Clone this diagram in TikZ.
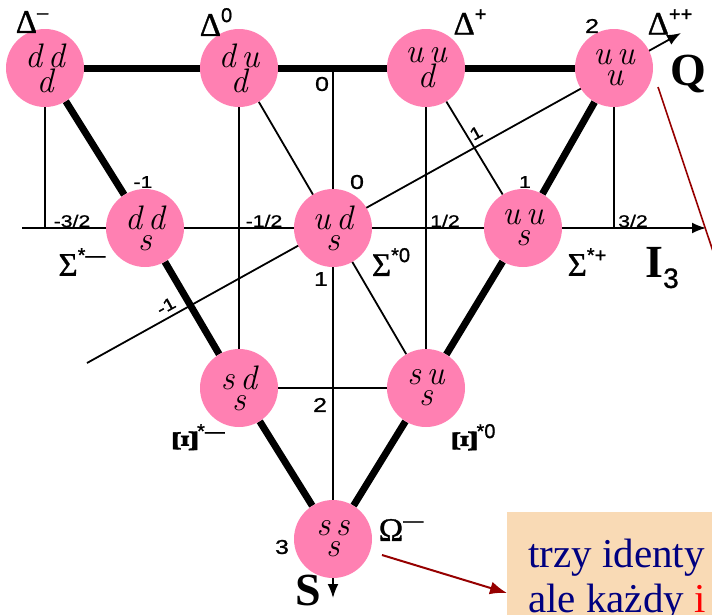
\documentclass[tikz,border=0pt]{standalone}
\usepackage{fontspec}
\usepackage{graphicx}
\usepackage{xcolor}
\usepackage{tikz}
\usetikzlibrary{arrows.meta,backgrounds}
\newfontfamily\ticksans{Liberation Sans}[FakeStretch=1.25,FakeBold=1]
\newfontfamily\plainsans{Liberation Sans}[FakeBold=1]
\newfontfamily\greekserif{Liberation Serif}[FakeBold=1]
\newfontfamily\notefont{Liberation Serif}
\definecolor{quarkpink}{RGB}{255,128,178}
\definecolor{notefill}{RGB}{249,218,181}
\definecolor{notenavy}{RGB}{0,0,128}
\definecolor{arrowred}{RGB}{150,0,0}
\newcommand{\hadron}[2]{{\greekserif #1}\raisebox{0.42em}{\plainsans\fontsize{20}{20}\selectfont #2}}
\newcommand{\xiturned}{\resizebox{24pt}{22pt}{\bfseries\rotatebox{90}{Ξ}}}

\begin{document}
\begin{tikzpicture}[
  x=1pt,y=-1pt,
  quark/.style={circle,fill=quarkpink,minimum size=78pt,inner sep=0pt,align=center,
                font=\fontsize{34}{21}\selectfont\itshape\addfontfeature{FakeStretch=1.2,FakeBold=0.6}},
  heavy/.style={line width=7pt},
  thinline/.style={line width=1.8pt},
  axis/.style={thinline,-{Latex[length=14pt,width=11pt]}},
  tick/.style={font=\ticksans\fontsize{17}{17}\selectfont,inner sep=0pt},
  bigtick/.style={tick,font=\ticksans\fontsize{20}{20}\selectfont},
  hname/.style={font=\greekserif\fontsize{33}{33}\selectfont,inner sep=0pt},
  axisname/.style={font=\notefont\bfseries\fontsize{46}{46}\selectfont,inner sep=0pt},
  notebox/.style={fill=notefill,inner sep=0pt,minimum width=260pt,minimum height=150pt},
  notetext/.style={font=\notefont\fontsize{41}{45}\selectfont,text=notenavy,inner sep=0pt},
  redarrow/.style={draw=arrowred,line width=2pt,-{Latex[length=17pt,width=13pt]}}
]
\useasboundingbox (0,0) rectangle (712,614);
\clip (0,0) rectangle (712,614);

% decuplet
\node[quark] (ddd) at (45,68)   {d\,d\\d};
\node[quark] (dud) at (239,68)  {d\,u\\d};
\node[quark] (uud) at (426,68)  {u\,u\\d};
\node[quark] (uuu) at (614,68)  {u\,u\\u};
\node[quark] (dds) at (145,228) {d\,d\\s};
\node[quark] (uds) at (333,228) {u\,d\\s};
\node[quark] (uus) at (523,228) {u\,u\\s};
\node[quark] (sds) at (239,388) {s\,d\\s};
\node[quark] (sus) at (426,388) {s\,u\\s};
\node[quark] (sss) at (333,539) {s\,s\\s};

\coordinate (i3from) at (22,228);
\coordinate (i3to)   at (706,228);
\coordinate (sfrom)  at (333,68);
\coordinate (sto)    at (333,598);
\coordinate (qfrom)  at (87,363);
\coordinate (qto)    at (681,33);

\begin{scope}[on background layer]
\draw[heavy] (ddd) -- (uuu);
\draw[heavy,line join=round] (ddd) -- (dds) -- (sds) -- (sss);
\draw[heavy,line join=round] (uuu) -- (uus) -- (sus) -- (sss);
\draw[thinline] (ddd) -- (ddd |- i3from);
\draw[thinline] (uuu) -- (uuu |- i3from);
\draw[thinline] (dud) -- (sds);
\draw[thinline] (uud) -- (sus);
\draw[thinline] (sds) -- (sus);
\draw[thinline] (dud) -- (sus);
\draw[thinline] (uud) -- (uus);
\draw[axis] (i3from) -- (i3to);
\draw[axis] (sfrom) -- (sto);
\draw[axis] (qfrom) -- (qto);
\end{scope}

% particle names
\node[hname] (dmm) at (32,22)   {\hadron{Δ}{–}};
\node[hname] (dz)  at (216,22)  {\hadron{Δ}{0}};
\node[hname] (dp)  at (470,22)  {\hadron{Δ}{+}};
\node[hname] (dpp) at (670,22)  {\hadron{Δ}{++}};
\node[hname] (sgm) at (82,262)  {\hadron{Σ}{*—}};
\node[hname] (sgz) at (391,262) {\hadron{Σ}{*0}};
\node[hname] (sgp) at (587,262) {\hadron{Σ}{*+}};
\node[hname] (xim) at (199,438) {\hadron{\xiturned}{*—}};
\node[hname] (xiz) at (474,438) {\hadron{\xiturned}{*0}};
\node[hname] (omm) at (401,530) {\hadron{Ω}{—}};

% axis names
\node[axisname] (qlbl)  at (688,74)  {Q};
\node[axisname] (i3lbl) at (662,268) {I\raisebox{-10pt}{\plainsans\mdseries\fontsize{28}{28}\selectfont 3}};
\node[axisname] (slbl)  at (308,590) {S};

% ticks
\node[bigtick] (s0) at (322,84)  {0};
\node[bigtick] (s1) at (321,279) {1};
\node[bigtick] (s2) at (320,405) {2};
\node[bigtick] (s3) at (282,547) {3};
\node[tick] (qm) at (143,182) {-1};
\node[bigtick] (qz) at (357,182) {0};
\node[tick] (qo) at (525,182) {1};
\node[bigtick] (qt) at (592,26)  {2};
\node[tick,rotate=29] (qcrossm) at (166,306) {-1};
\node[tick,rotate=29] (qcrossp) at (476,133) {1};
\node[tick] (i3a) at (72,221)  {-3/2};
\node[tick] (i3b) at (264,221) {-1/2};
\node[tick] (i3c) at (445,221) {1/2};
\node[tick] (i3d) at (633,221) {3/2};

% note
\node[notebox,anchor=north west] (note) at (507,512) {};
\node[notetext,anchor=base west] (notetop) at (528,567) {trzy identy};
\node[notetext,anchor=base west] (notebot) at (528,612) {ale każdy \textcolor{red}{i}};

\coordinate (redfrom) at (658,87);
\coordinate (redto)   at (730,302);
\draw[arrowred,line width=1.6pt] (redfrom) -- (redto);
\coordinate (omfrom) at (382,555);
\draw[redarrow] (omfrom) -- ([yshift=-81pt]note.north west);
\end{tikzpicture}
\end{document}
